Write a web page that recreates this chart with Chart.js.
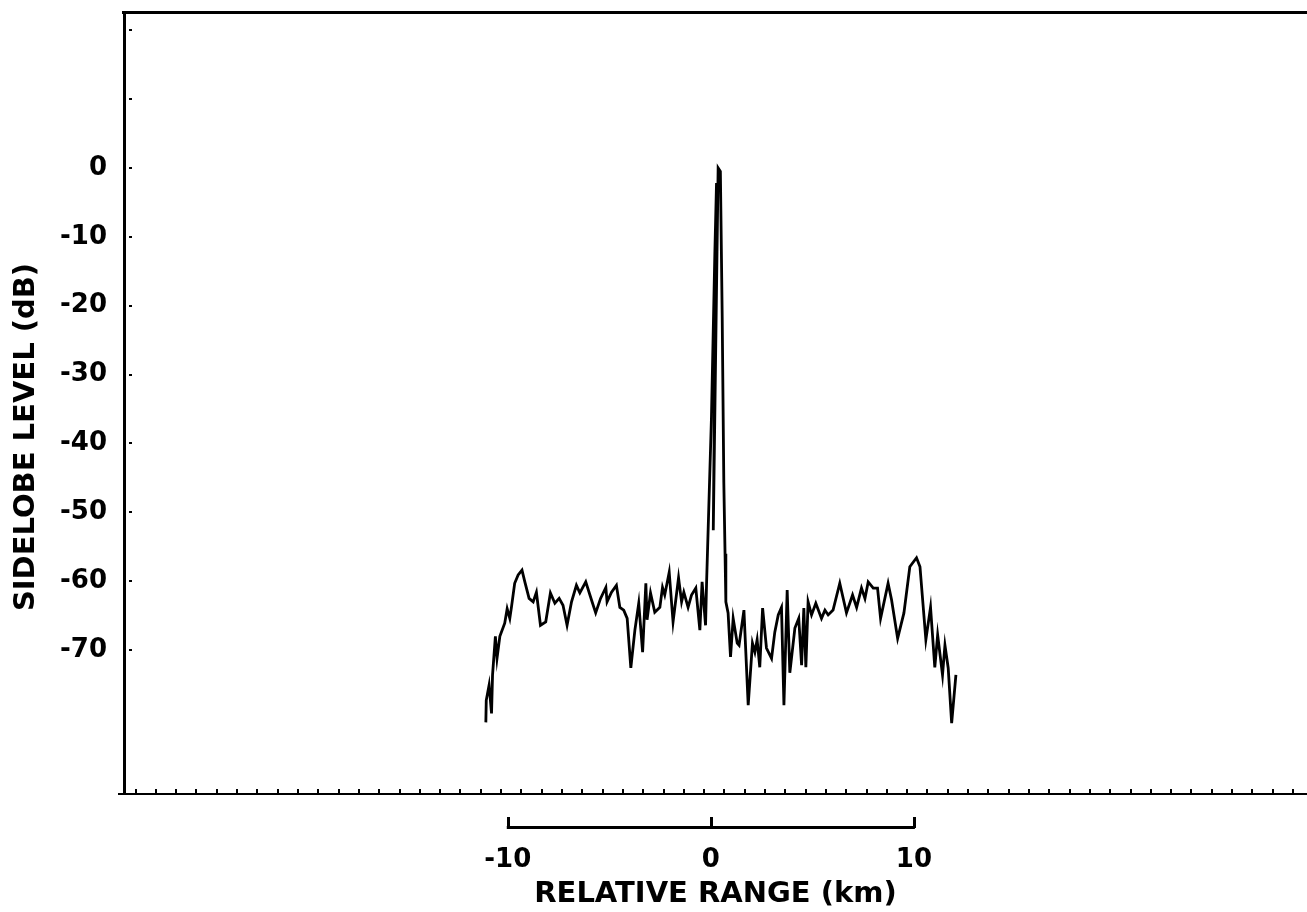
<!DOCTYPE html>
<html>
<head>
<meta charset="utf-8">
<script src="https://cdn.jsdelivr.net/npm/chart.js@4"></script>
<style>
  body { margin: 0; background: #fff; }
  canvas { display: block; }
</style>
</head>
<body>
<canvas id="grafica" width="1307" height="912"></canvas>
<script>
// distancia relativa (km) y nivel del lobulo (dB)
const rangoKm = [
  -11.08, -11.06, -10.92, -10.80, -10.75, -10.61, -10.53, -10.39, -10.15, -10.03,
  -9.90, -9.82, -9.66, -9.49, -9.30, -9.16, -8.95, -8.75, -8.59, -8.39,
  -8.13, -7.90, -7.68, -7.47, -7.28, -7.08, -6.86, -6.62, -6.45, -6.16,
  -5.88, -5.67, -5.43, -5.17, -5.11, -4.89, -4.65, -4.48, -4.29, -4.12,
  -3.94, -3.74, -3.55, -3.36, -3.20, -3.14, -2.97, -2.76, -2.51, -2.38,
  -2.27, -2.05, -1.86, -1.59, -1.44, -1.33, -1.12, -0.95, -0.74, -0.54,
  -0.43, -0.26, -0.21, 0.03, 0.20, 0.28, 0.12, 0.36, 0.47, 0.56,
  0.64, 0.70, 0.74, 0.85, 0.97, 1.10, 1.30, 1.39, 1.63,
  1.84, 2.05, 2.17, 2.28, 2.41, 2.55, 2.74, 2.99, 3.15, 3.32,
  3.48, 3.60, 3.76, 3.89, 4.14, 4.33, 4.47, 4.58, 4.68, 4.79,
  4.96, 5.17, 5.45, 5.62, 5.78, 6.02, 6.35, 6.68, 6.98, 7.18,
  7.42, 7.59, 7.75, 8.00, 8.21, 8.36, 8.73, 8.90, 9.20, 9.51,
  9.80, 10.13, 10.30, 10.59, 10.82, 11.03, 11.17, 11.41, 11.53, 11.69,
  11.86, 12.07
]
const nivelDb = [
  -80.5, -77.3, -75.1, -79.2, -73.6, -68.0, -71.2, -68.0, -66.1, -64.0,
  -65.4, -63.8, -60.3, -59.1, -58.4, -60.1, -62.5, -63.0, -61.6, -66.4,
  -65.9, -61.7, -63.2, -62.5, -63.5, -66.4, -63.0, -60.6, -61.7, -60.1,
  -62.7, -64.6, -62.5, -60.9, -63.0, -61.6, -60.6, -63.8, -64.2, -65.4,
  -72.6, -67.1, -63.2, -70.3, -60.3, -65.6, -61.7, -64.5, -63.8, -60.9,
  -62.0, -58.7, -65.9, -59.5, -63.0, -61.6, -63.8, -62.0, -61.0, -67.1,
  -60.1, -66.4, -60.3, -36.3, -12.1, -2.2, -52.6, 0.0, -0.5, -21.6,
  -45.7, -56.0, -63.0, -64.6, -71.0, -65.4, -69.0, -69.3, -64.2,
  -78.0, -69.0, -70.3, -68.5, -72.5, -63.9, -69.7, -71.2, -67.4, -64.9,
  -63.8, -78.0, -61.3, -73.3, -66.8, -65.4, -72.2, -63.9, -72.5, -63.0,
  -64.9, -63.2, -65.4, -64.2, -64.9, -64.2, -60.3, -64.6, -62.0, -63.8,
  -61.0, -62.5, -60.1, -61.0, -61.0, -65.4, -60.3, -62.7, -68.3, -64.6,
  -57.9, -56.6, -57.9, -68.5, -63.8, -72.5, -67.8, -73.6, -69.3, -72.6,
  -80.6, -73.6
]
const etiquetasY = [0, -10, -20, -30, -40, -50, -60, -70]
const etiquetasX = [-10, 0, 10]
const marcasY = [20, 10, 0, -10, -20, -30, -40, -50, -60, -70]

const fuente = '"DejaVu Sans", "Liberation Sans", Arial, sans-serif'
Chart.defaults.font.family = fuente
Chart.defaults.color = '#000'

const puntos = rangoKm.map((x, i) => ({ x: x, y: nivelDb[i] }))

// marcas, borde superior, barra de escala y titulo del eje Y
const extras = {
  id: 'extras',
  afterDraw(chart) {
    const ctx = chart.ctx
    const x = chart.scales.x
    const y = chart.scales.y
    const area = chart.chartArea
    ctx.save()
    ctx.fillStyle = '#000'

    // borde superior
    ctx.fillRect(area.left - 2, area.top - 2, chart.width - area.left + 2, 3)

    // linea del eje X un poco a la izquierda del eje Y
    ctx.fillRect(area.left - 6, area.bottom - 1, 6, 2)

    // marcas del eje X (cada km, desplazadas)
    for (let k = Math.ceil(x.min); k <= x.max; k++) {
      const px = x.getPixelForValue(k - 0.33)
      if (px < area.left + 4 || px > chart.width - 2) continue
      ctx.fillRect(Math.round(px) - 1, area.bottom - 5, 2, 5)
    }

    // puntos del eje Y
    marcasY.forEach(v => {
      const py = y.getPixelForValue(v)
      ctx.fillRect(area.left + 5, Math.round(py) - 1, 3, 2)
    })

    // barra de escala -10 .. 10
    const yb = x.top + 33
    const x0 = x.getPixelForValue(etiquetasX[0])
    const x1 = x.getPixelForValue(etiquetasX[etiquetasX.length - 1])
    ctx.fillRect(x0 - 1, yb - 1, x1 - x0 + 2, 3)
    etiquetasX.forEach(v => {
      const px = x.getPixelForValue(v)
      ctx.fillRect(Math.round(px) - 1, yb - 10, 3, 11)
    })

    // titulo eje Y
    ctx.translate(26, 437)
    ctx.rotate(-Math.PI / 2)
    ctx.font = 'bold 29px ' + fuente
    ctx.textAlign = 'center'
    ctx.textBaseline = 'middle'
    ctx.fillText('SIDELOBE LEVEL (dB)', 0, 0)
    ctx.restore()
  }
}

new Chart(document.getElementById('grafica'), {
  type: 'line',
  data: {
    datasets: [{
      data: puntos,
      borderColor: '#000',
      borderWidth: 2.8,
      pointRadius: 0,
      tension: 0,
      fill: false
    }]
  },
  options: {
    responsive: false,
    animation: false,
    layout: { padding: { top: 13, right: 0, left: 0, bottom: 0 } },
    plugins: { legend: { display: false }, tooltip: { enabled: false } },
    scales: {
      x: {
        type: 'linear',
        position: 'bottom',
        min: -28.9,
        max: 29.36,
        afterBuildTicks: s => { s.ticks = etiquetasX.map(v => ({ value: v })) },
        afterFit: s => { s.height = 118; s.paddingLeft = 0; s.paddingRight = 0 },
        grid: { display: false, drawTicks: false },
        border: { display: true, color: '#000', width: 2 },
        ticks: {
          padding: 51,
          maxRotation: 0,
          font: { size: 26, weight: 'bold' },
          color: '#000'
        },
        title: {
          display: true,
          text: 'RELATIVE RANGE (km)',
          font: { size: 29, weight: 'bold' },
          color: '#000',
          padding: { top: 0, bottom: 0 }
        }
      },
      y: {
        type: 'linear',
        min: -90.9,
        max: 22.5,
        afterBuildTicks: s => { s.ticks = etiquetasY.map(v => ({ value: v })) },
        afterFit: s => { s.width = 124; s.paddingTop = 0; s.paddingBottom = 0 },
        grid: { display: false, drawTicks: false },
        border: { display: true, color: '#000', width: 3 },
        ticks: {
          padding: 17,
          font: { size: 26, weight: 'bold' },
          color: '#000'
        }
      }
    }
  },
  plugins: [extras]
})
</script>
</body>
</html>
